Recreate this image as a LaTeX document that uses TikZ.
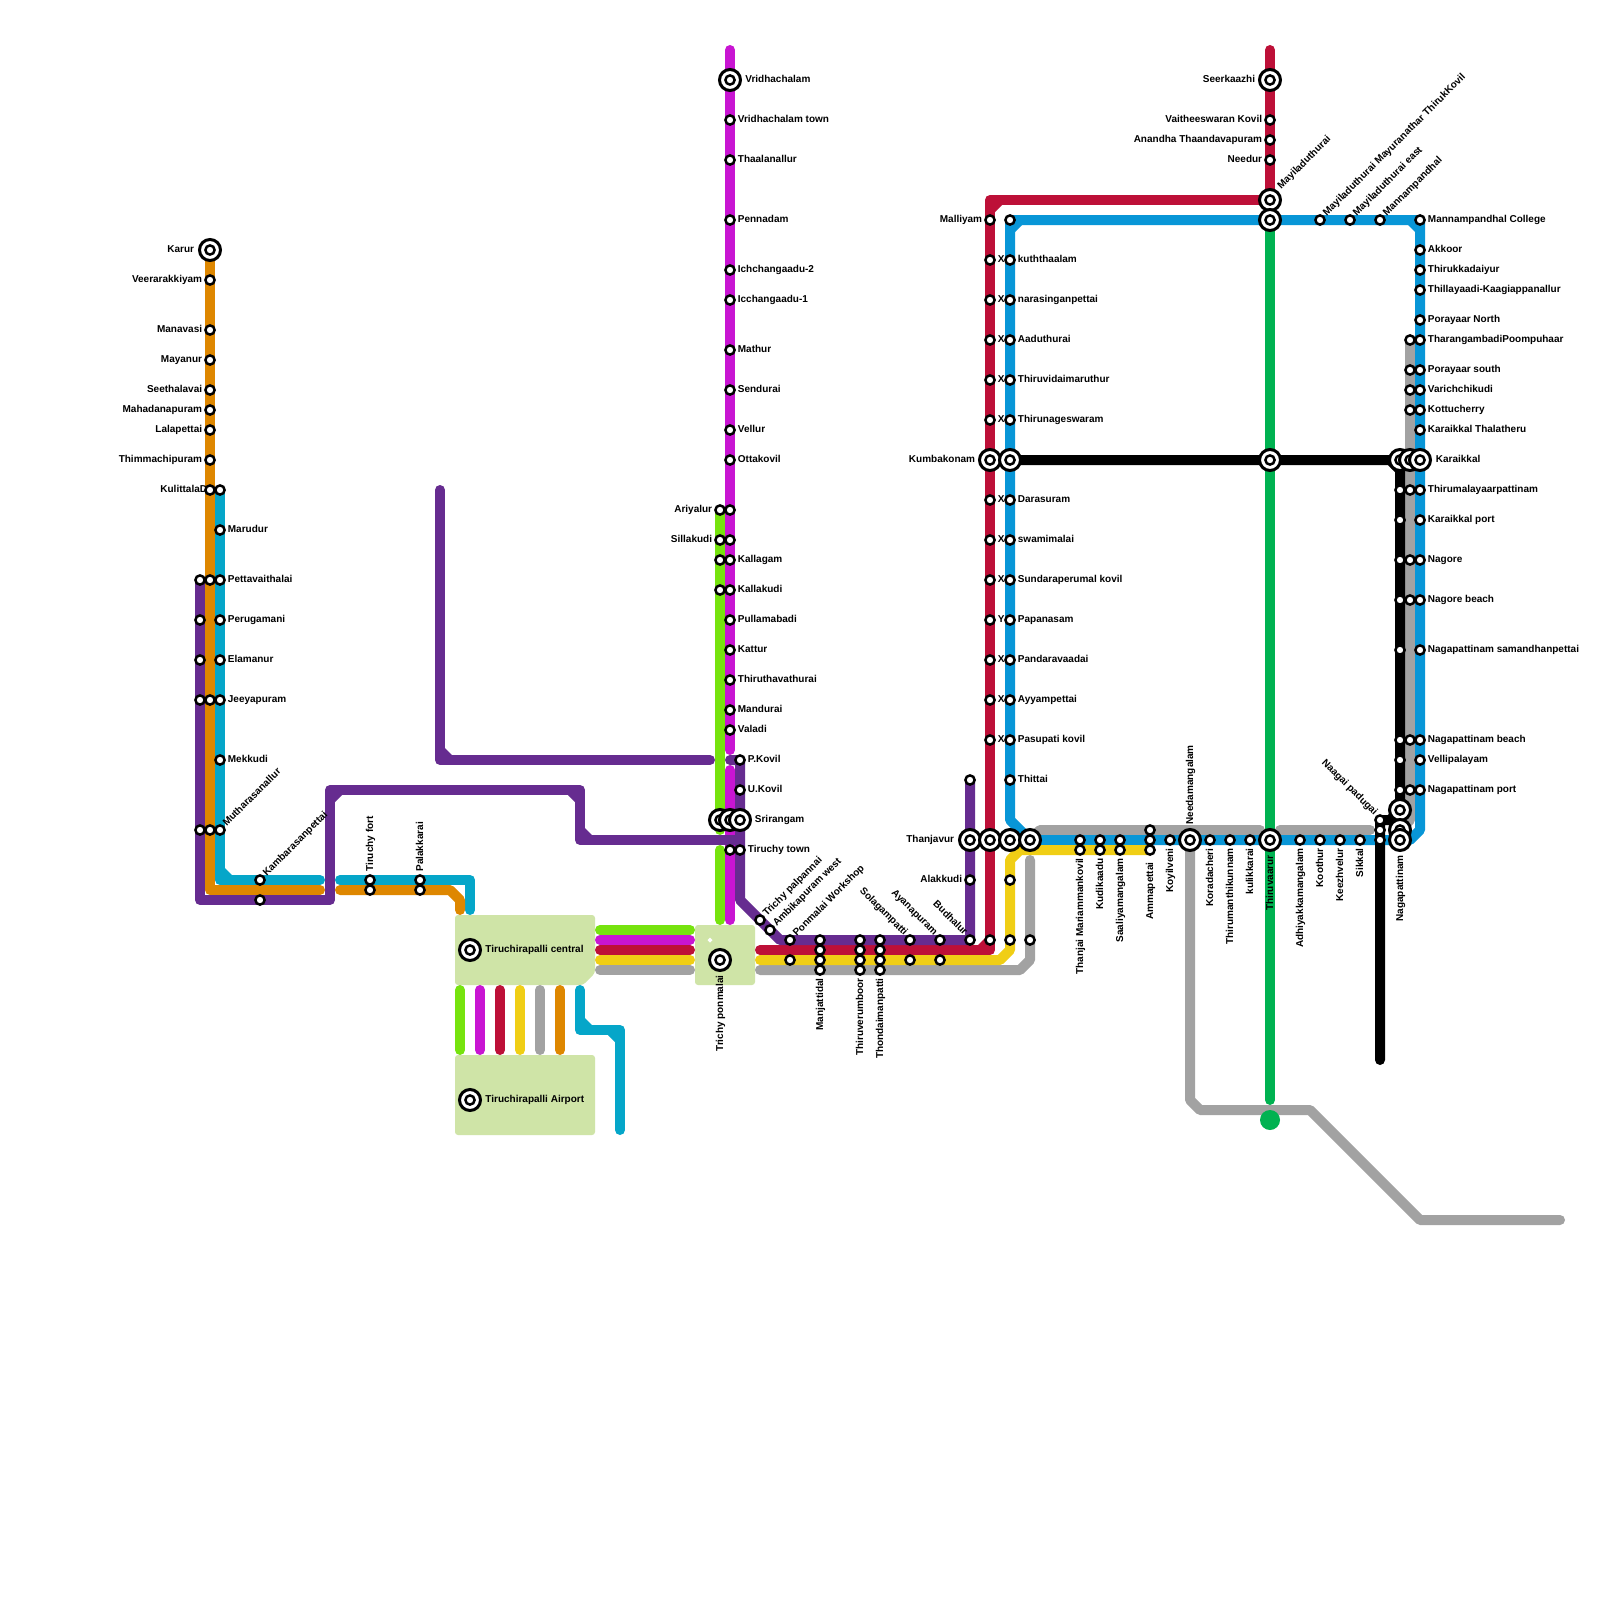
\documentclass[tikz,border=0pt]{standalone}
\usepackage{fontspec}
\setmainfont{Liberation Sans}
\definecolor{cOrange}{HTML}{DE8700}
\definecolor{cTeal}{HTML}{05A6C9}
\definecolor{cPurple}{HTML}{662C90}
\definecolor{cLime}{HTML}{76E30E}
\definecolor{cMag}{HTML}{C815D2}
\definecolor{cRed}{HTML}{BD1038}
\definecolor{cYel}{HTML}{F0CE15}
\definecolor{cGray}{HTML}{A2A2A2}
\definecolor{cBlue}{HTML}{0896D7}
\definecolor{cGreen}{HTML}{00B251}
\definecolor{cRect}{HTML}{CFE4A7}
\newcount\lblc
\newcommand\lblgen[4]{\global\advance\lblc by 1 \node[lbl,#1] (t\the\lblc) at (#2,#3) {#4};}
\newcommand\lblR[3]{\lblgen{anchor=base west}{#1+7.5}{#2+2.8}{#3}}
\newcommand\lblL[3]{\lblgen{anchor=base east}{#1-7.5}{#2+2.8}{#3}}
\newcommand\lblU[3]{\lblgen{anchor=base west,rotate=45}{#1+6.5}{#2-3}{#3}}
\newcommand\lblD[3]{\lblgen{anchor=base east,rotate=-45}{#1-6}{#2-4}{#3}}
\newcommand\lblS[3]{\lblgen{anchor=base east,rotate=90}{#1+3}{#2+8}{#3}}
\newcommand\lblN[3]{\lblgen{anchor=base west,rotate=90}{#1+3}{#2-8}{#3}}
\newcommand\cham[5]{\fill[#1] (#2,#3) -- (#2+#4,#3) -- (#2,#3+#5) -- cycle;}
\newcommand\ichg[2]{\node[ixo] (io#1-#2) at (#1,#2) {}; \node[stn] (ii#1-#2) at (#1,#2) {};}
\tikzset{
 ln/.style={line width=5pt,line cap=round,line join=round},
 stn/.style={circle,draw=black,fill=white,line width=1.25pt,minimum size=4.6pt,inner sep=0pt,outer sep=0pt},
 ixo/.style={circle,draw=black,fill=white,line width=1.5pt,minimum size=10.5pt,inner sep=0pt,outer sep=0pt},
 lbl/.style={inner sep=0pt,font=\fontsize{5}{6}\selectfont\bfseries,text=black},
 hub/.style={fill=cRect,rounded corners=1.5pt},
}
\begin{document}
\begin{tikzpicture}[x=0.5pt,y=-0.5pt]
\fill[white] (0,0) rectangle (1600,1600);
\useasboundingbox (0,0) rectangle (1600,1600);
% hubs
\fill[hub] (455,915) -- (595,915) -- (595,973) -- (583,985) -- (455,985) -- cycle;
\fill[hub] (455,1055) rectangle (595,1135);
\fill[hub] (695,925) rectangle (755,985);
\fill[white] (710,937.5) -- (712.5,940) -- (710,942.5) -- (707.5,940) -- cycle;
% lines
\draw[ln,cGray] (1190,840) -- (1190,1100) -- (1200,1110) -- (1310,1110) -- (1420,1220) -- (1560,1220);
\draw[ln,cGray] (1030,840) -- (1040,830) -- (1260,830);
\draw[ln,cGray] (1280,830) -- (1370,830);
\draw[ln,cGray] (1410,340) -- (1410,820) -- (1400,830);
\draw[ln,cGray] (760,970) -- (1020,970) -- (1030,960) -- (1030,860);
\draw[ln,cGray] (600,970) -- (690,970);
\draw[ln,cGray] (540,990) -- (540,1050);
\draw[ln,cGreen] (1270,220) -- (1270,1100);
\fill[cGreen] (1270,1120) circle[radius=10];
\draw[ln,cBlue] (1030,840) -- (1010,820) -- (1010,220) -- (1420,220) -- (1420,830) -- (1410,840) -- (1030,840);
\cham{cBlue}{1015}{225}{7}{7}
\cham{cBlue}{1415}{225}{-7}{7}
\draw[ln,cRed] (760,950) -- (990,950) -- (990,200) -- (1270,200);
\cham{cRed}{995}{205}{7}{7}
\cham{cRed}{985}{945}{-7}{-7}
\draw[ln,cRed] (1270,50) -- (1270,200);
\draw[ln,cRed] (600,950) -- (690,950);
\draw[ln,cRed] (500,990) -- (500,1050);
\draw[ln,cYel] (760,960) -- (1000,960) -- (1010,950) -- (1010,860) -- (1020,850) -- (1150,850);
\draw[ln,cYel] (600,960) -- (690,960);
\draw[ln,cYel] (520,990) -- (520,1050);
\draw[ln,black] (1010,460) -- (1390,460) -- (1400,470) -- (1400,810) -- (1390,820) -- (1380,820) -- (1380,1060);
\draw[ln,cLime] (720,510) -- (720,830);
\draw[ln,cLime] (720,850) -- (720,920);
\draw[ln,cLime] (600,930) -- (690,930);
\draw[ln,cLime] (460,990) -- (460,1050);
\draw[ln,cMag] (730,50) -- (730,750);
\draw[ln,cMag] (730,770) -- (730,920);
\draw[ln,cMag] (600,940) -- (690,940);
\draw[ln,cMag] (480,990) -- (480,1050);
\draw[ln,cOrange] (210,250) -- (210,890) -- (320,890);
\draw[ln,cTeal] (220,490) -- (220,880) -- (320,880);
\cham{cTeal}{225}{875}{7}{-7}
\draw[ln,cTeal] (340,880) -- (470,880) -- (470,910);
\draw[ln,cOrange] (340,890) -- (450,890) -- (460,900) -- (460,910);
\draw[ln,cOrange] (560,990) -- (560,1050);
\draw[ln,cTeal] (580,990) -- (580,1030) -- (620,1030) -- (620,1130);
\cham{cTeal}{585}{1025}{7}{-7}
\cham{cTeal}{615}{1035}{-7}{7}
\draw[ln,cPurple] (200,580) -- (200,900) -- (330,900) -- (330,790) -- (580,790) -- (580,840) -- (740,840);
\cham{cPurple}{335}{795}{7}{7}
\cham{cPurple}{575}{795}{-7}{7}
\cham{cPurple}{585}{835}{7}{-7}
\draw[ln,cPurple] (440,490) -- (440,760) -- (710,760);
\cham{cPurple}{445}{755}{7}{-7}
\draw[ln,cPurple] (730,760) -- (740,760) -- (740,900) -- (780,940) -- (970,940) -- (970,780);
% stations
\foreach \x/\y in {210/280,210/330,210/360,210/390,210/410,210/430,210/460,210/490,220/490,220/530,
 200/580,210/580,220/580,200/620,220/620,200/660,220/660,200/700,210/700,220/700,220/760,200/830,210/830,220/830,
 260/880,260/900,370/880,370/890,420/880,420/890,
 730/120,730/160,730/220,730/270,730/300,730/350,730/390,730/430,730/460,720/510,730/510,720/540,730/540,720/560,730/560,720/590,730/590,
 730/620,730/650,730/680,730/710,730/730,740/760,740/790,730/850,740/850,
 760/920,770/930,790/940,790/960,820/940,820/950,820/960,820/970,860/940,860/950,860/960,860/970,880/940,880/950,880/960,880/970,
 910/940,910/960,940/940,940/960,970/940,990/940,1010/940,1030/940,970/780,970/880,1010/880,1010/780,
 990/220,1010/220,990/260,1010/260,990/300,1010/300,990/340,1010/340,990/380,1010/380,990/420,1010/420,
 990/500,1010/500,990/540,1010/540,990/580,1010/580,990/620,1010/620,990/660,1010/660,990/700,1010/700,990/740,1010/740,
 1080/840,1080/850,1100/840,1100/850,1120/840,1120/850,1150/830,1150/840,1150/850,1170/840,1210/840,1230/840,1250/840,
 1300/840,1320/840,1340/840,1360/840,1380/820,1380/830,1380/840,
 1270/120,1270/140,1270/160,1320/220,1350/220,1380/220,
 1420/220,1420/250,1420/270,1420/290,1420/320,1410/340,1420/340,1410/370,1420/370,1410/390,1420/390,1410/410,1420/410,1420/430,
 1400/490,1410/490,1420/490,1400/520,1420/520,1400/560,1410/560,1420/560,1400/600,1410/600,1420/600,1400/650,1420/650,
 1400/740,1410/740,1420/740,1400/760,1420/760,1400/790,1410/790,1420/790}
 {\node[stn] (s\x-\y) at (\x,\y) {};}
% interchanges
\foreach \x/\y in {210/250,730/80,720/820,730/820,740/820,470/950,470/1100,720/960,
 990/460,1010/460,970/840,990/840,1010/840,1030/840,1190/840,1270/840,
 1270/80,1270/200,1270/220,1270/460,1400/460,1410/460,1420/460,1400/810,1400/830,1400/840}
 {\ichg{\x}{\y}}
% labels
\foreach \y/\t in {280/Veerarakkiyam,330/Manavasi,360/Mayanur,390/Seethalavai,410/Mahadanapuram,430/Lalapettai,460/Thimmachipuram}
 {\lblL{210}{\y}{\t}}
\lblL{202}{250}{Karur}
\lblgen{anchor=base west}{160}{492.8}{KulittalaD}
\foreach \y/\t in {530/Marudur,580/Pettavaithalai,620/Perugamani,660/Elamanur,700/Jeeyapuram,760/Mekkudi}
 {\lblR{220}{\y}{\t}}
\lblU{220}{830}{Mutharasanallur}
\lblU{260}{880}{Kambarasanpettai}
\lblN{370}{880}{Tiruchy fort}
\lblN{420}{880}{Palakkarai}
\lblgen{anchor=base west}{485}{952.8}{Tiruchirapalli central}
\lblgen{anchor=base west}{485}{1102.8}{Tiruchirapalli Airport}
\lblS{720}{967}{Trichy ponmalai}
\lblgen{anchor=base west}{745}{82.8}{Vridhachalam}
\foreach \y/\t in {120/Vridhachalam town,160/Thaalanallur,220/Pennadam,270/Ichchangaadu-2,300/Icchangaadu-1,350/Mathur,390/Sendurai,430/Vellur,460/Ottakovil,
 560/Kallagam,590/Kallakudi,620/Pullamabadi,650/Kattur,680/Thiruthavathurai,710/Mandurai,730/Valadi}
 {\lblR{730}{\y}{\t}}
\lblL{720}{510}{Ariyalur}
\lblL{720}{540}{Sillakudi}
\lblR{740}{760}{P.Kovil}
\lblR{740}{790}{U.Kovil}
\lblR{747}{820}{Srirangam}
\lblR{740}{850}{Tiruchy town}
\lblU{760}{920}{Trichy palpannai}
\lblU{770}{930}{Ambikapuram west}
\lblU{790}{940}{Ponmalai Workshop}
\lblS{820}{970}{Manjattidal}
\lblS{860}{970}{Thiruverumboor}
\lblS{880}{970}{Thondaimanpatti}
\lblD{910}{940}{Solagampatti}
\lblD{940}{940}{Ayanapuram}
\lblD{970}{940}{Budhalur}
\lblL{962}{840}{Thanjavur}
\lblL{970}{880}{Alakkudi}
\lblL{990}{220}{Malliyam}
\lblL{983}{460}{Kumbakonam}
\foreach \y/\t in {260/kuththaalam,300/narasinganpettai,340/Aaduthurai,380/Thiruvidaimaruthur,420/Thirunageswaram,
 500/Darasuram,540/swamimalai,580/Sundaraperumal kovil,620/Papanasam,660/Pandaravaadai,700/Ayyampettai,740/Pasupati kovil,780/Thittai}
 {\lblR{1010}{\y}{\t}}
\foreach \y/\t in {260/X,300/X,340/X,380/X,420/X,500/X,540/X,580/X,620/Y,660/X,700/X,740/X}
 {\lblR{990}{\y}{\t}}
\lblS{1080}{850}{Thanjai Mariammankovil}
\lblS{1100}{850}{Kudikaadu}
\lblS{1120}{850}{Saaliyamangalam}
\lblS{1150}{854}{Ammapettai}
\lblS{1170}{840}{Koyilveni}
\lblN{1190}{833}{Needamangalam}
\lblS{1210}{840}{Koradacheri}
\lblS{1230}{840}{Thirumanthikunnam}
\lblS{1250}{840}{kulikkarai}
\lblS{1270}{847}{Thiruvaarur}
\lblS{1300}{840}{Adhiyakkamangalam}
\lblS{1320}{840}{Koothur}
\lblS{1340}{840}{Keezhvelur}
\lblS{1360}{840}{Sikkal}
\lblD{1380}{820}{Naagai padugai}
\lblS{1400}{847}{Nagapattinam}
\lblL{1263}{80}{Seerkaazhi}
\lblL{1270}{120}{Vaitheeswaran Kovil}
\lblL{1270}{140}{Anandha Thaandavapuram}
\lblL{1270}{160}{Needur}
\lblU{1274.5}{193}{Mayiladuthurai}
\lblU{1320}{220}{Mayiladuthurai Mayuranathar ThirukKovil}
\lblU{1350}{220}{Mayiladuthurai east}
\lblU{1380}{220}{Mannampandhal}
\foreach \y/\t in {220/Mannampandhal College,250/Akkoor,270/Thirukkadaiyur,290/Thillayaadi-Kaagiappanallur,320/Porayaar North,340/TharangambadiPoompuhaar,
 370/Porayaar south,390/Varichchikudi,410/Kottucherry,430/Karaikkal Thalatheru,490/Thirumalayaarpattinam,520/Karaikkal port,560/Nagore,600/Nagore beach,
 650/Nagapattinam samandhanpettai,740/Nagapattinam beach,760/Vellipalayam,790/Nagapattinam port}
 {\lblR{1420}{\y}{\t}}
\lblR{1428}{460}{Karaikkal}
\end{tikzpicture}
\end{document}
